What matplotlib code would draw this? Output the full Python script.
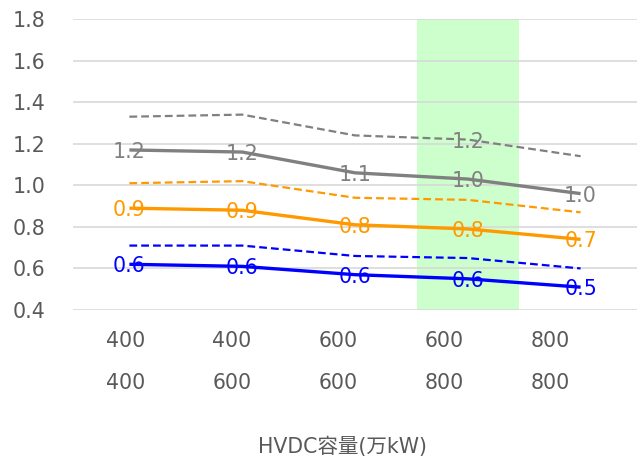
import matplotlib
matplotlib.use("Agg")
import matplotlib.pyplot as plt
import matplotlib.transforms as mtransforms

plt.rcParams["font.family"] = ["DejaVu Sans", "Noto Sans CJK JP"]

# --- data -------------------------------------------------------------------
cap_top = ["400", "400", "600", "600", "800"]
cap_bottom = ["400", "600", "600", "800", "800"]
x_title = "HVDC容量(万kW)"

gray_solid = [1.17, 1.16, 1.06, 1.03, 0.96]
gray_dashed = [1.33, 1.34, 1.24, 1.22, 1.14]
orange_solid = [0.89, 0.88, 0.81, 0.79, 0.74]
orange_dashed = [1.01, 1.02, 0.94, 0.93, 0.87]
blue_solid = [0.62, 0.61, 0.57, 0.55, 0.51]
blue_dashed = [0.71, 0.71, 0.66, 0.65, 0.60]

highlight = 3  # highlighted category (green band)

GRAY = "#808080"
ORANGE = "#FF9900"
BLUE = "#0000FF"
TICK = "#595959"
FS = 14.8

# --- figure -----------------------------------------------------------------
fig = plt.figure(figsize=(6.37, 4.58), dpi=100)
ax = fig.add_axes([0.1146, 0.3231, 0.8854, 0.6354])

x = list(range(len(cap_top)))

ax.axvspan(highlight - 0.45, highlight + 0.45, color="#CCFFCC", zorder=0, lw=0)

dash = (5.6 / 1.6, 2.9 / 1.6)
for vals, color in [(gray_dashed, GRAY), (orange_dashed, ORANGE), (blue_dashed, BLUE)]:
    ln, = ax.plot(x, vals, color=color, lw=1.6, zorder=3)
    ln.set_dashes(dash)

for vals, color in [(gray_solid, GRAY), (orange_solid, ORANGE), (blue_solid, BLUE)]:
    ax.plot(x, vals, color=color, lw=2.4, zorder=3, solid_capstyle="butt")
    for xi, v in zip(x, vals):
        ax.text(xi, v - 0.01, f"{v:.1f}", color=color, fontsize=FS,
                ha="center", va="center", zorder=4)

# single label on the gray dashed line
ax.text(highlight, gray_dashed[highlight] - 0.01, f"{gray_dashed[highlight]:.1f}",
        color=GRAY, fontsize=FS, ha="center", va="center", zorder=4)

ax.set_xlim(-0.5, len(x) - 0.5)
ax.set_ylim(0.4, 1.8)
ax.set_yticks([0.4, 0.6, 0.8, 1.0, 1.2, 1.4, 1.6, 1.8])
ax.set_yticklabels([f"{t:.1f}" for t in ax.get_yticks()])
ax.yaxis.grid(True, color="#D9D9D9", lw=1.2)
ax.set_axisbelow(True)
ax.tick_params(axis="y", length=0, pad=20, labelsize=FS, labelcolor=TICK)
ax.set_xticks([])
for s in ax.spines.values():
    s.set_visible(False)

# two-row category labels
trans = mtransforms.blended_transform_factory(ax.transAxes, fig.transFigure)
for i, (a, b) in enumerate(zip(cap_top, cap_bottom)):
    xf = 0.094 + 0.188 * i
    ax.text(xf, 1 - 341 / 458, a, transform=trans, ha="center", va="center",
            fontsize=FS, color=TICK)
    ax.text(xf, 1 - 383 / 458, b, transform=trans, ha="center", va="center",
            fontsize=FS, color=TICK)

fig.text(342 / 637, 1 - 447 / 458, x_title, ha="center",
         va="center", fontsize=FS, color=TICK)

fig.savefig("out.png", dpi=100)
